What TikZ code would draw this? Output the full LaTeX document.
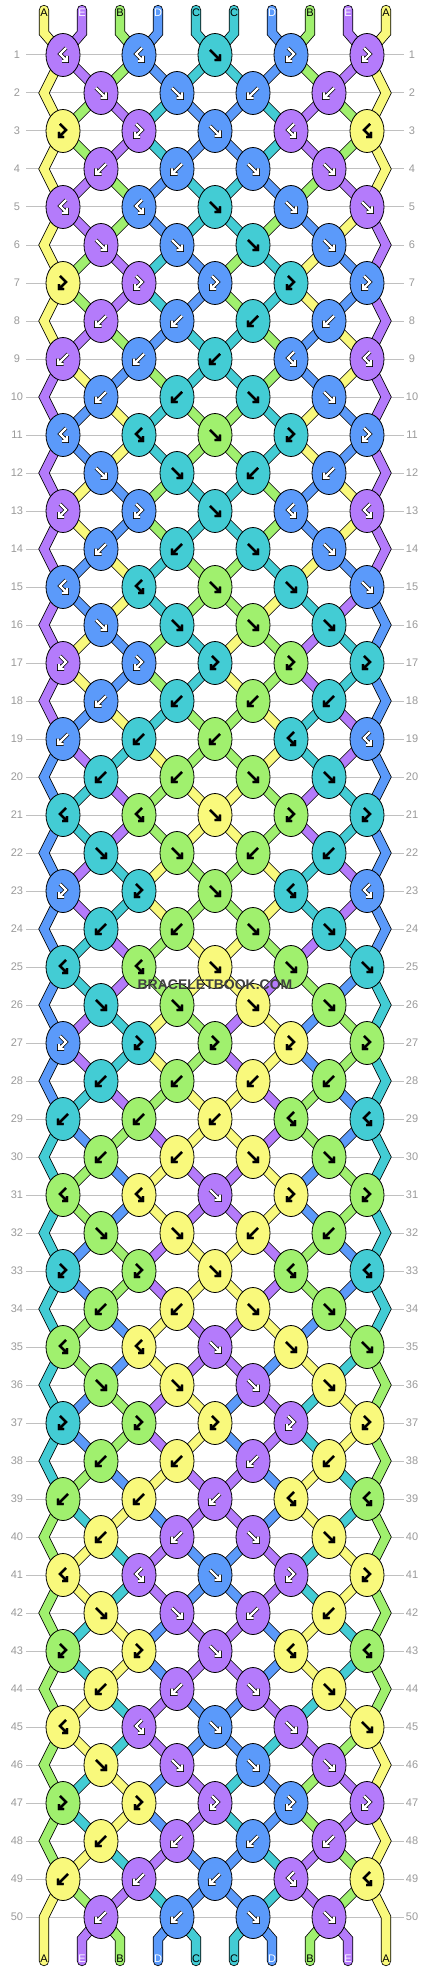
\documentclass[tikz,border=0pt]{standalone}
\usepackage{fontspec}
\setmainfont{Liberation Sans}
\usetikzlibrary{shapes.geometric}

\definecolor{strY}{HTML}{F9F97C}
\definecolor{strP}{HTML}{B47BFB}
\definecolor{strG}{HTML}{A0F06E}
\definecolor{strB}{HTML}{5B9AFA}
\definecolor{strT}{HTML}{43CCD4}
\definecolor{rulegray}{HTML}{C0C0C0}
\definecolor{numgray}{HTML}{9A9A9A}

% ink on each string colour, and the letter of each string
\def\inkY{black}\def\inkG{black}\def\inkT{black}\def\inkP{white}\def\inkB{white}
\def\letY{A}\def\letP{E}\def\letG{B}\def\letB{D}\def\letT{C}
% knot types: which string shows, and whether the two strings swap
\def\pickf#1#2{#1}\def\pickfb#1#2{#1}\def\pickb#1#2{#2}\def\pickbf#1#2{#2}
\def\swapf{1}\def\swapb{1}\def\swapfb{0}\def\swapbf{0}

\pgfdeclarelayer{threads}
\pgfsetlayers{threads,main}

\tikzset{
  thread/.style={draw=black, line width=0.8pt, double=str#1,
    double distance=8.6pt, line cap=round, line join=miter},
  knot/.style={ellipse, draw=black, line width=0.8pt, fill=str#1,
    minimum width=34pt, minimum height=43pt, inner sep=0pt},
  rownum/.style={text=numgray, font=\fontsize{11}{11}\selectfont},
  strlabel/.style={text=#1, font=\fontsize{11}{11}\selectfont, inner sep=0pt},
  rimwhite/.style={line width=3.8pt},
  rimblack/.style={line width=2.4pt},
  glyph/.style={draw=#1, line width=2.4pt, line join=miter,
    preaction={draw=black, rim#1}},
  arrf/.pic={\path[glyph=#1] (-5,-5) -- (4.5,4.5) (-0.5,5) -- (5,5) -- (5,-0.5);},
  arrb/.pic={\path[glyph=#1] (5,-5) -- (-4.5,4.5) (0.5,5) -- (-5,5) -- (-5,-0.5);},
  arrfb/.pic={\path[glyph=#1] (-3,-7) -- (3,-1) -- (-3.5,5.5) (1,6) -- (-4,6) -- (-4,1);},
  arrbf/.pic={\path[glyph=#1] (3,-7) -- (-3,-1) -- (3.5,5.5) (-1,6) -- (4,6) -- (4,1);},
}

\begin{document}
\begin{tikzpicture}[x=1pt, y=-1pt]
  \begin{pgfonlayer}{threads}
    \fill[white] (0,0) rectangle (430,1972);
    \foreach \row in {1,...,50}
      \draw[rulegray, line width=1pt] (26,17+38*\row) -- (404,17+38*\row);
  \end{pgfonlayer}
  \foreach \row in {1,...,50}{
    \node[rownum] (numl-\row) at (17,17+38*\row) {\row};
    \node[rownum] (numr-\row) at (412,17+38*\row) {\row};
  }

  % strings at the top
  \foreach \scol [count=\pa] in {Y,P,G,B,T,T,B,G,P,Y}{
    \coordinate (top-\pa) at (6+38*\pa,10);
    \coordinate (drop-\pa) at (6+38*\pa,33);
    \edef\ink{\csname ink\scol\endcsname}
    \node[strlabel=\ink] (lbl-\pa) at (6+38*\pa,13) {\csname let\scol\endcsname};
    \expandafter\xdef\csname col\pa\endcsname{\scol}
    \expandafter\xdef\csname path\pa\endcsname{(top-\pa) -- (drop-\pa)}
  }

  % knots, ten rows repeated five times
  \foreach \blk in {0,...,4}
  \foreach \types [count=\ib] in {{bf,bf,f,fb,fb},{f,f,b,b},{fb,fb,f,bf,bf},
      {b,b,f,f},{bf,bf,f,f,f},{f,f,f,f},{fb,fb,fb,fb,fb},{b,b,b,b},
      {b,b,b,bf,bf},{b,b,f,f}}{
    \pgfmathtruncatemacro\row{10*\blk+\ib}
    \pgfmathtruncatemacro\ypos{17+38*\row}
    \foreach \ty [count=\kn] in \types {
      \pgfmathtruncatemacro\pa{2*\kn-mod(\row,2)}
      \pgfmathtruncatemacro\pb{\pa+1}
      \edef\colL{\csname col\pa\endcsname}
      \edef\colR{\csname col\pb\endcsname}
      \edef\kcol{\csname pick\ty\endcsname{\colL}{\colR}}
      \edef\ink{\csname ink\kcol\endcsname}
      \edef\tmp{\noexpand\node[knot=\kcol] (k-\row-\kn) at (25+38*\pa,\ypos) {};
        \noexpand\pic at (k-\row-\kn) {arr\ty=\ink};}
      \tmp
      \begin{pgfonlayer}{threads}
        \edef\tmp{\noexpand\draw[thread=\colL] \csname path\pa\endcsname -- (k-\row-\kn.center);
          \noexpand\draw[thread=\colR] \csname path\pb\endcsname -- (k-\row-\kn.center);}
        \tmp
      \end{pgfonlayer}
      \expandafter\xdef\csname path\pa\endcsname{(k-\row-\kn.center)}
      \expandafter\xdef\csname path\pb\endcsname{(k-\row-\kn.center)}
      \if1\csname swap\ty\endcsname
        \expandafter\xdef\csname col\pa\endcsname{\colR}
        \expandafter\xdef\csname col\pb\endcsname{\colL}
      \fi
    }
    % outer strings skip the even rows
    \ifodd\row\else
      \coordinate (v-\row-1) at (44,\ypos);
      \coordinate (v-\row-10) at (386,\ypos);
      \expandafter\xdef\csname path1\endcsname{\csname path1\endcsname -- (v-\row-1)}
      \expandafter\xdef\csname path10\endcsname{\csname path10\endcsname -- (v-\row-10)}
    \fi
  }

  % strings at the bottom
  \foreach \pa in {1,...,10}{
    \coordinate (rise-\pa) at (6+38*\pa,1939);
    \coordinate (end-\pa) at (6+38*\pa,1961);
    \edef\scol{\csname col\pa\endcsname}
    \edef\ink{\csname ink\scol\endcsname}
    \begin{pgfonlayer}{threads}
      \edef\tmp{\noexpand\draw[thread=\scol] \csname path\pa\endcsname -- (rise-\pa) -- (end-\pa);}
      \tmp
    \end{pgfonlayer}
    \node[strlabel=\ink] (lblb-\pa) at (6+38*\pa,1959) {\csname let\scol\endcsname};
  }

  \node[font=\fontsize{14}{14}\selectfont\bfseries, text=black!75] (mark) at (215,985) {BRACELETBOOK.COM};
\end{tikzpicture}
\end{document}
